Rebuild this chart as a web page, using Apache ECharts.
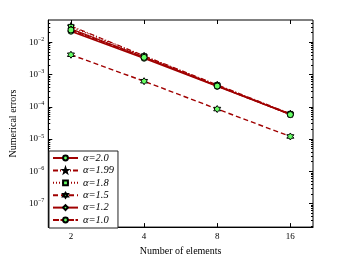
<!DOCTYPE html>
<html><head><meta charset="utf-8">
<script src="https://cdn.jsdelivr.net/npm/echarts@6/dist/echarts.min.js"></script>
<style>html,body{margin:0;padding:0;background:#fff}#c{width:346px;height:261px}</style>
</head><body><div id="c"></div>
<script>
const elements = [2, 4, 8, 16];
const names = ['α=2.0', 'α=1.99', 'α=1.8', 'α=1.5', 'α=1.2', 'α=1.0'];
const err20  = [0.022, 3.2e-3, 4.3e-4, 5.9e-5];
const err199 = [0.032, 3.8e-3, 4.8e-4, 6.1e-5];
const err18  = [0.030, 3.7e-3, 4.7e-4, 6.0e-5];
const err15  = [4.1e-3, 6.2e-4, 8.5e-5, 1.2e-5];
const err12  = [0.026, 3.5e-3, 4.5e-4, 5.8e-5];
const err10  = [0.024, 3.4e-3, 4.4e-4, 5.7e-5];
const xTicks = [2, 4, 8, 16];
const yMajor = [1e-7, 1e-6, 1e-5, 1e-4, 1e-3, 1e-2];

const yMinor = [];
for (let e = -8; e <= -2; e++) for (let m = 2; m <= 9; m++) {
  const v = m * Math.pow(10, e);
  if (v > 1.86e-8 && v < 0.049) yMinor.push(v);
}
const RED = '#a00000', GREEN = '#66ff66';
const serif = 'Liberation Serif';
const hexStar = 'path://M0,-10L2.89,-5L8.66,-5L5.77,0L8.66,5L2.89,5L0,10L-2.89,5L-8.66,5L-5.77,0L-8.66,-5L-2.89,-5Z';
const star5 = 'path://M0,-10L2.35,-3.24L9.51,-3.09L3.8,1.24L5.88,8.09L0,4L-5.88,8.09L-3.8,1.24L-9.51,-3.09L-2.35,-3.24Z';

function mk(name, data, dash, symbol, size, fill, lw) {
  return {
    name: name, type: 'line', data: elements.map((x, i) => [x, data[i]]),
    symbol: symbol, symbolSize: size, showSymbol: true,
    lineStyle: {color: RED, width: lw, type: dash},
    itemStyle: {color: fill, borderColor: '#000', borderWidth: 1},
    emphasis: {disabled: true}
  };
}
const series = [
  mk(names[0], err20, 'solid', 'circle', 6, GREEN, 1.6),
  mk(names[1], err199, [5, 2, 1, 2], star5, 7, '#000', 1.2),
  mk(names[2], err18, [1, 2], 'rect', 5, GREEN, 1.2),
  mk(names[3], err15, [5, 3], hexStar, 7, GREEN, 1.4),
  mk(names[4], err12, 'solid', 'diamond', 6, GREEN, 1.2),
  mk(names[5], err10, [6, 1.5], 'circle', 6, GREEN, 1.3)
];

function yFmt(v) {
  const e = Math.round(Math.log10(v));
  return '{b|10}{s|' + (e < 0 ? '\u2212' + (-e) : e) + '}';
}
const yRich = {b: {fontFamily: serif, fontSize: 9, color: '#000', lineHeight: 12}, s: {fontFamily: serif, fontSize: 6, color: '#000', verticalAlign: 'top', lineHeight: 12}};
const yMin = Math.pow(10, -7.73), yMax = Math.pow(10, -1.31);
const xMin = Math.pow(2, 0.69), xMax = Math.pow(2, 4.31);

const chart = echarts.init(document.getElementById('c'), null, {renderer: 'canvas'});
chart.setOption({
  animation: false,
  backgroundColor: '#fff',
  grid: {left: 45, top: 20, right: 33, bottom: 30, show: true, borderColor: '#000', borderWidth: 1, backgroundColor: 'transparent'},
  legend: {
    orient: 'vertical', left: 49, top: 151, itemWidth: 25, itemHeight: 6, itemGap: 0.4,
    padding: [1, 4, 2, 3], borderColor: '#222', borderWidth: 1, backgroundColor: '#fff',
    textStyle: {fontFamily: serif, fontStyle: 'italic', fontSize: 10.5, color: '#000', lineHeight: 12},
    data: names
  },
  xAxis: [{
    type: 'log', logBase: 2, min: xMin, max: xMax,
    name: 'Number of elements', nameLocation: 'middle', nameGap: 17,
    nameTextStyle: {fontFamily: serif, fontSize: 10, color: '#000'},
    axisLine: {show: true, lineStyle: {color: '#000', width: 1}},
    axisTick: {inside: true, length: 4, lineStyle: {color: '#000'}, customValues: xTicks},
    axisLabel: {fontFamily: serif, fontSize: 9, color: '#000', margin: 5, customValues: xTicks, formatter: v => String(Math.round(v))},
    splitLine: {show: false}
  }, {
    type: 'log', logBase: 2, min: xMin, max: xMax, position: 'top',
    axisLine: {show: false},
    axisTick: {inside: true, length: 4, lineStyle: {color: '#000'}, customValues: xTicks},
    axisLabel: {show: false}, splitLine: {show: false}
  }],
  yAxis: [{
    type: 'log', min: yMin, max: yMax,
    name: 'Numerical errors', nameLocation: 'middle', nameGap: 23,
    nameTextStyle: {fontFamily: serif, fontSize: 10, color: '#000'},
    axisLine: {show: true, lineStyle: {color: '#000', width: 1}},
    axisTick: {inside: true, length: 4, lineStyle: {color: '#000'}, customValues: yMajor},
    axisLabel: {margin: 4, customValues: yMajor, formatter: yFmt, rich: yRich},
    splitLine: {show: false}
  }, {
    type: 'log', min: yMin, max: yMax, position: 'left',
    axisLine: {show: false},
    axisTick: {inside: true, length: 2, lineStyle: {color: '#000'}, customValues: yMinor},
    axisLabel: {show: false}, splitLine: {show: false}
  }, {
    type: 'log', min: yMin, max: yMax, position: 'right',
    axisLine: {show: false},
    axisTick: {inside: true, length: 4, lineStyle: {color: '#000'}, customValues: yMajor},
    axisLabel: {show: false}, splitLine: {show: false}
  }, {
    type: 'log', min: yMin, max: yMax, position: 'right',
    axisLine: {show: false},
    axisTick: {inside: true, length: 2, lineStyle: {color: '#000'}, customValues: yMinor},
    axisLabel: {show: false}, splitLine: {show: false}
  }],
  series: series
});
</script></body></html>
